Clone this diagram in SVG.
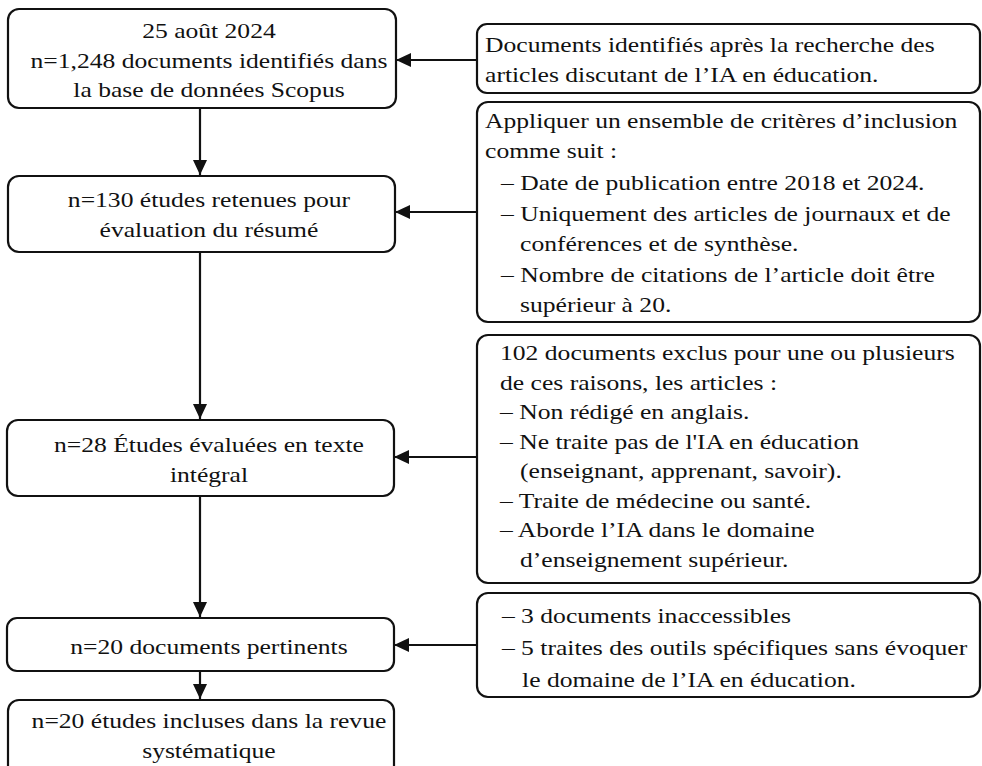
<svg xmlns="http://www.w3.org/2000/svg" width="982" height="766" viewBox="0 0 982 766">
<style>
  .box { fill: #ffffff; stroke: #111111; stroke-width: 2.2; }
  .t { font-family: "Liberation Serif", "Times New Roman", serif; font-size: 21.5px; fill: #111111; }
  .c { text-anchor: middle; }
  .con { stroke: #111111; stroke-width: 2.2; fill: none; marker-end: url(#arr); }
</style>
<defs>
  <marker id="arr" markerUnits="userSpaceOnUse" markerWidth="15" markerHeight="15" refX="15" refY="7" orient="auto">
    <path d="M0,0 L15,7 L0,14 z" fill="#111111"/>
  </marker>
</defs>
<rect width="982" height="766" fill="#ffffff"/>

<g id="connectors">
  <line class="con" x1="200" y1="108" x2="200" y2="175"/>
  <line class="con" x1="200" y1="252" x2="200" y2="419"/>
  <line class="con" x1="200" y1="496" x2="200" y2="617"/>
  <line class="con" x1="200" y1="671" x2="200" y2="699"/>
  <line class="con" x1="477" y1="60" x2="396" y2="60"/>
  <line class="con" x1="477" y1="212" x2="395" y2="212"/>
  <line class="con" x1="477" y1="457" x2="394" y2="457"/>
  <line class="con" x1="477" y1="645" x2="394" y2="645"/>
</g>

<g id="n1">
  <rect class="box" x="8" y="9" width="388" height="99" rx="11"/>
  <g transform="scale(1.19 1)">
    <text class="t c" x="175.6" y="38">25 août 2024</text>
    <text class="t c" x="175.6" y="68">n=1,248 documents identifiés dans</text>
    <text class="t c" x="175.6" y="97">la base de données Scopus</text>
  </g>
</g>

<g id="n2">
  <rect class="box" x="8" y="176" width="387" height="76" rx="11"/>
  <g transform="scale(1.19 1)">
    <text class="t c" x="175.6" y="207">n=130 études retenues pour</text>
    <text class="t c" x="175.6" y="237">évaluation du résumé</text>
  </g>
</g>

<g id="n3">
  <rect class="box" x="7" y="420" width="387" height="76" rx="11"/>
  <g transform="scale(1.19 1)">
    <text class="t c" x="175.6" y="452">n=28 Études évaluées en texte</text>
    <text class="t c" x="175.6" y="482">intégral</text>
  </g>
</g>

<g id="n4">
  <rect class="box" x="7" y="618" width="387" height="53" rx="10"/>
  <g transform="scale(1.19 1)">
    <text class="t c" x="175.6" y="654">n=20 documents pertinents</text>
  </g>
</g>

<g id="n5">
  <rect class="box" x="8" y="700" width="386" height="90" rx="11"/>
  <g transform="scale(1.19 1)">
    <text class="t c" x="175.6" y="728">n=20 études incluses dans la revue</text>
    <text class="t c" x="175.6" y="758">systématique</text>
  </g>
</g>

<g id="r1">
  <rect class="box" x="477" y="24" width="503" height="69" rx="10"/>
  <g transform="scale(1.19 1)">
    <text class="t" x="407.6" y="52">Documents identifiés après la recherche des</text>
    <text class="t" x="407.6" y="82">articles discutant de l’IA en éducation.</text>
  </g>
</g>

<g id="r2">
  <rect class="box" x="477" y="102" width="503" height="220" rx="11"/>
  <g transform="scale(1.19 1)">
    <text class="t" x="407.6" y="128">Appliquer un ensemble de critères d’inclusion</text>
    <text class="t" x="407.6" y="158">comme suit :</text>
    <text class="t" x="421" y="190">– Date de publication entre 2018 et 2024.</text>
    <text class="t" x="421" y="221">– Uniquement des articles de journaux et de</text>
    <text class="t" x="437" y="251">conférences et de synthèse.</text>
    <text class="t" x="421" y="282">– Nombre de citations de l’article doit être</text>
    <text class="t" x="437" y="312">supérieur à 20.</text>
  </g>
</g>

<g id="r3">
  <rect class="box" x="477" y="335" width="503" height="248" rx="11"/>
  <g transform="scale(1.19 1)">
    <text class="t" x="420.2" y="360">102 documents exclus pour une ou plusieurs</text>
    <text class="t" x="420.2" y="390">de ces raisons, les articles :</text>
    <text class="t" x="420.2" y="419">– Non rédigé en anglais.</text>
    <text class="t" x="420.2" y="449">– Ne traite pas de l'IA en éducation</text>
    <text class="t" x="437" y="478">(enseignant, apprenant, savoir).</text>
    <text class="t" x="420.2" y="508">– Traite de médecine ou santé.</text>
    <text class="t" x="420.2" y="537">– Aborde l’IA dans le domaine</text>
    <text class="t" x="437" y="567">d’enseignement supérieur.</text>
  </g>
</g>

<g id="r4">
  <rect class="box" x="477" y="593" width="503" height="104" rx="11"/>
  <g transform="scale(1.19 1)">
    <text class="t" x="421.8" y="623">– 3 documents inaccessibles</text>
    <text class="t" x="421.8" y="655">– 5 traites des outils spécifiques sans évoquer</text>
    <text class="t" x="438.7" y="687">le domaine de l’IA en éducation.</text>
  </g>
</g>
</svg>
